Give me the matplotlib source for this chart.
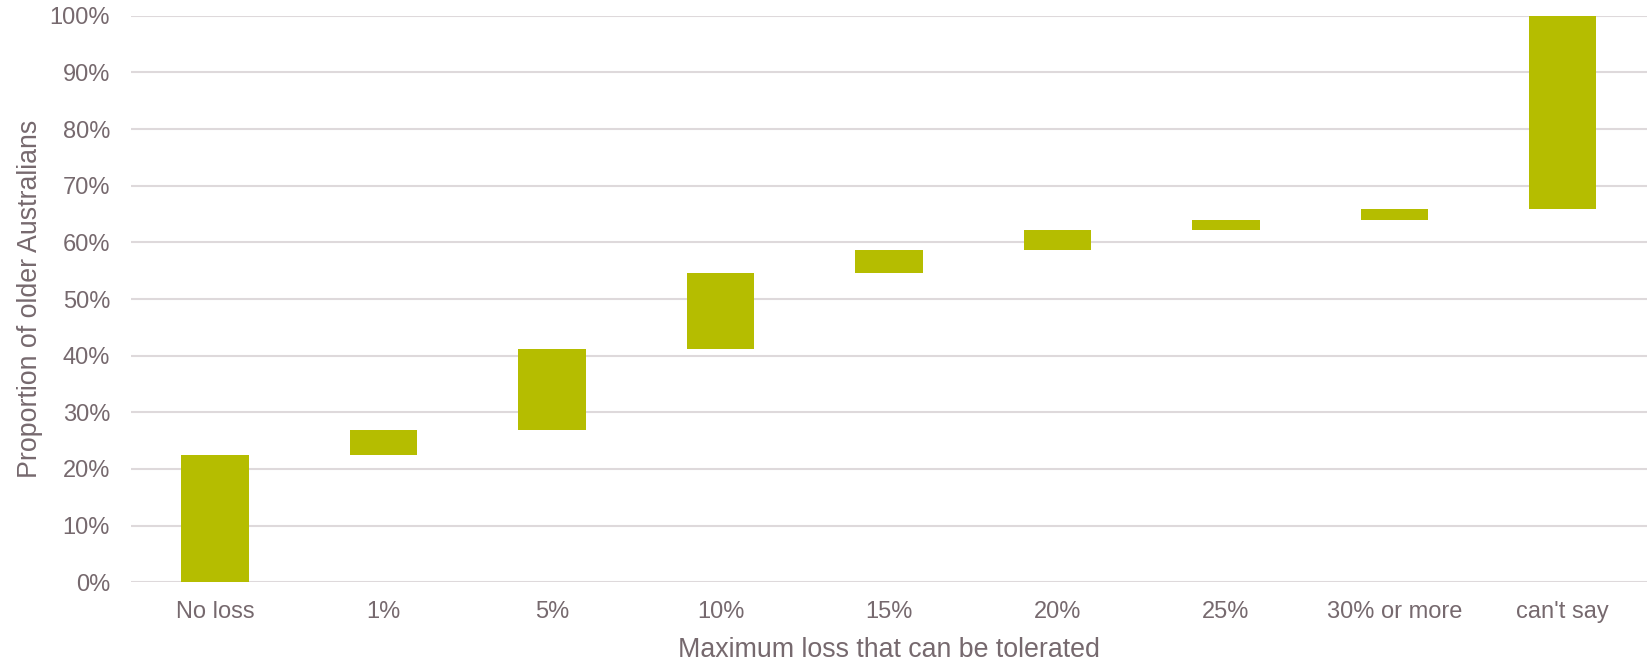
import numpy as np
import matplotlib
matplotlib.use("Agg")
import matplotlib.pyplot as plt
from matplotlib.ticker import PercentFormatter

# Share of older Australians by maximum tolerable loss (percentage points)
categories = ["No loss", "1%", "5%", "10%", "15%", "20%", "25%", "30% or more", "can't say"]
shares = [22.5, 4.4, 14.3, 13.4, 4.1, 3.5, 1.7, 2.0, 34.1]
y_ticks = [0, 10, 20, 30, 40, 50, 60, 70, 80, 90, 100]

bar_color = "#B5BD00"
text_color = "#76696E"
grid_color = "#DED9DB"

plt.rcParams["font.family"] = ["Liberation Sans", "DejaVu Sans"]

fig = plt.figure(figsize=(16.47, 6.61), dpi=100)
ax = fig.add_axes([0.0795, 0.1191, 0.9205, 0.8571])

vals = np.array(shares)
bottoms = np.concatenate([[0], np.cumsum(vals)[:-1]])
x = np.arange(len(categories))
ax.bar(x, vals, bottom=bottoms, width=0.40, color=bar_color, zorder=3)

ax.set_xlim(-0.5, len(categories) - 0.5)
ax.set_ylim(0, 100)
ax.set_yticks(y_ticks)
ax.yaxis.set_major_formatter(PercentFormatter(decimals=0))
ax.set_xticks(x)
ax.set_xticklabels(categories)

ax.grid(axis="y", color=grid_color, linewidth=1.5, zorder=0)
ax.set_axisbelow(True)
for s in ax.spines.values():
    s.set_visible(False)

ax.tick_params(axis="both", length=0, labelsize=17, colors=text_color)
ax.tick_params(axis="y", pad=15)
ax.tick_params(axis="x", pad=13.8)

ax.set_xlabel("Maximum loss that can be tolerated", fontsize=19.3, color=text_color, labelpad=9.5)
ax.set_ylabel("Proportion of older Australians", fontsize=19.3, color=text_color, labelpad=5)

fig.savefig("out.png", dpi=100, facecolor="white")
